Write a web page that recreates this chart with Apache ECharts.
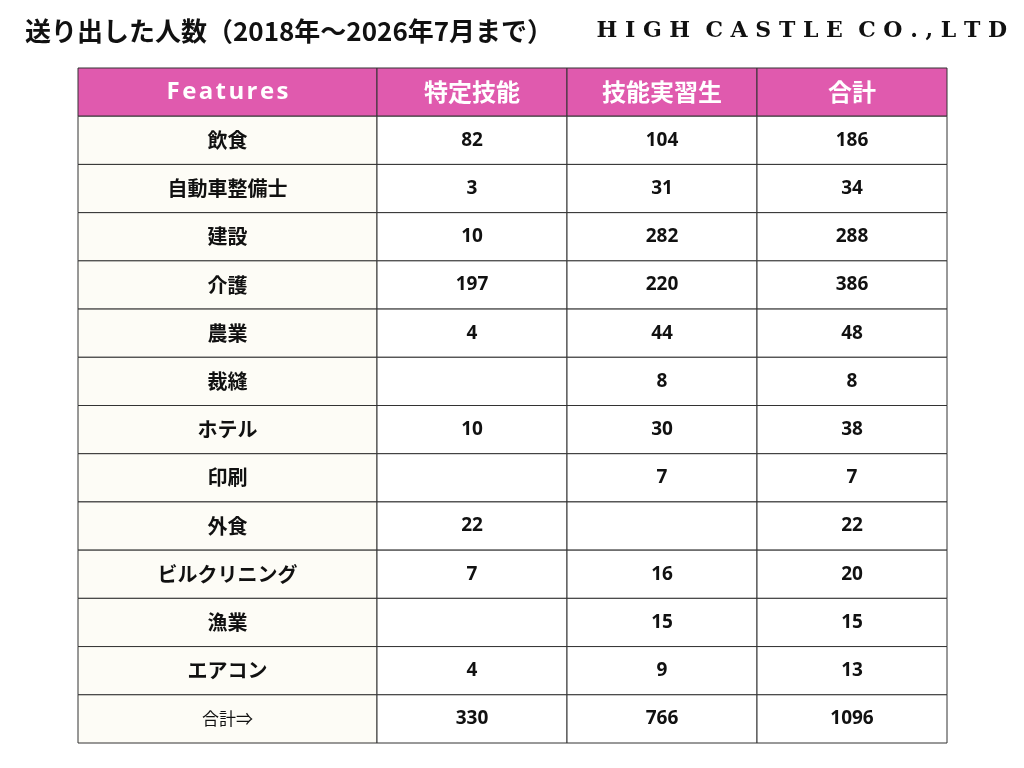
<!DOCTYPE html>
<html>
<head>
  <meta charset="utf-8">
  <script src="https://cdn.jsdelivr.net/npm/echarts@6/dist/echarts.min.js"></script>
  <style>body{margin:0;background:#fff}</style>
</head>
<body>
<div id="main" style="width:1024px;height:768px"></div>
<script>
  const headers = ['Features', '特定技能', '技能実習生', '合計'];
  const categories = ['飲食', '自動車整備士', '建設', '介護', '農業', '裁縫', 'ホテル', '印刷', '外食', 'ビルクリニング', '漁業', 'エアコン', '合計⇒'];
  const tokutei = [82, 3, 10, 197, 4, null, 10, null, 22, 7, null, 4, 330];
  const jisshu = [104, 31, 282, 220, 44, 8, 30, 7, null, 16, 15, 9, 766];
  const total = [186, 34, 288, 386, 48, 8, 38, 7, 22, 20, 15, 13, 1096];

  // column edges in x-axis units (layout only)
  const colEdges = [0, 299, 489, 679, 869];

  const cells = [];
  headers.forEach((h, c) => cells.push([c, 0, h]));
  categories.forEach((name, r) => {
    const vals = [name, tokutei[r], jisshu[r], total[r]];
    vals.forEach((v, c) => cells.push([c, r + 1, v == null ? '' : String(v)]));
  });

  const chart = echarts.init(document.getElementById('main'));
  chart.setOption({
    animation: false,
    title: [{
      text: '送り出した人数（2018年～2026年7月まで）',
      left: 20, top: 13,
      textStyle: { fontSize: 26, fontWeight: 'bold', color: '#111', fontFamily: 'Noto Sans CJK JP' }
    }, {
      text: 'H I G H  C A S T L E  C O . , L T D',
      right: 12, top: 15,
      textStyle: { fontSize: 22, fontWeight: 'bold', color: '#111', fontFamily: 'DejaVu Serif' }
    }],
    grid: { left: 78, right: 77, top: 68, bottom: 25 },
    xAxis: { type: 'value', min: 0, max: colEdges[4], show: false },
    yAxis: { type: 'value', min: 0, max: categories.length + 1, inverse: true, show: false },
    series: [{
      type: 'custom',
      data: cells,
      renderItem: function (params, api) {
        const c = api.value(0), r = api.value(1);
        const p0 = api.coord([colEdges[c], r]);
        const p1 = api.coord([colEdges[c + 1], r + 1]);
        let txt = cells[params.dataIndex][2];
        const isHead = r === 0;
        const isLast = r === categories.length;
        const isNum = !isHead && c > 0;
        let fill = '#ffffff';
        if (isHead) fill = '#e05aae';
        else if (c === 0) fill = '#fdfcf6';
        if (isHead && c === 0) txt = txt.split('').join('\u200a');
        return {
          type: 'group',
          children: [{
            type: 'rect',
            shape: { x: p0[0], y: p0[1], width: p1[0] - p0[0], height: p1[1] - p0[1] },
            style: { fill: fill, stroke: '#333', lineWidth: 1 }
          }, {
            type: 'text',
            style: {
              text: txt,
              x: (p0[0] + p1[0]) / 2, y: (p0[1] + p1[1]) / 2,
              align: 'center', verticalAlign: 'middle',
              fill: isHead ? '#fff' : '#111',
              fontSize: isHead ? 24 : (isLast && c === 0 ? 17 : (isNum ? 19 : 20)),
              fontWeight: (isLast && c === 0) ? 'normal' : 'bold',
              fontFamily: (isHead && c === 0) || isNum ? 'Open Sans, Noto Sans' : 'Noto Sans CJK JP, Noto Sans'
            }
          }]
        };
      }
    }]
  });
</script>
</body>
</html>
